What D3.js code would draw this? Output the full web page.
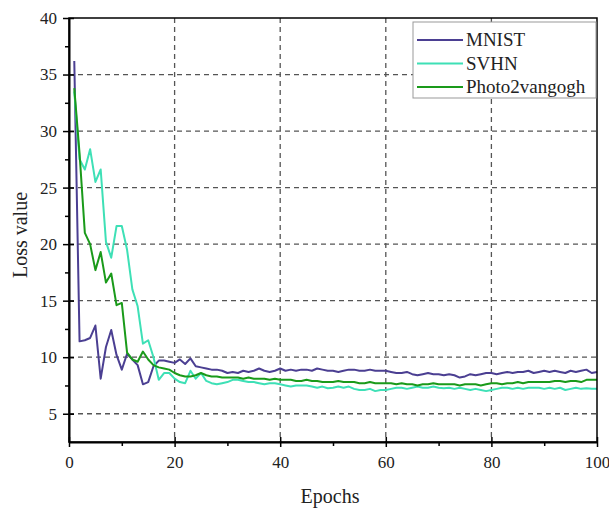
<!DOCTYPE html>
<html>
<head>
<meta charset="utf-8">
<script src="https://cdn.jsdelivr.net/npm/d3@7"></script>
<style>
  body { margin: 0; background: #fff; }
  svg text { font-family: "Liberation Serif", "Times New Roman", serif !important; }
</style>
</head>
<body>
<div id="chart"></div>
<script>
// loss per epoch (1..100)
const mnist = [
  36.2, 11.4, 11.5, 11.7, 12.8, 8.1, 10.9, 12.4, 10.2, 8.9,
  10.3, 9.8, 9.3, 7.6, 7.8, 9.2, 9.7, 9.7, 9.6, 9.5,
  9.8, 9.4, 9.9, 9.2, 9.1, 9.0, 8.9, 8.9, 8.8, 8.6,
  8.7, 8.6, 8.8, 8.7, 8.8, 9.0, 8.8, 8.7, 8.8, 9.0,
  8.8, 8.9, 8.8, 8.9, 8.9, 8.8, 9.0, 8.9, 8.8, 8.8,
  8.7, 8.8, 8.9, 8.9, 8.8, 8.8, 8.9, 8.8, 8.8, 8.8,
  8.7, 8.6, 8.6, 8.7, 8.5, 8.4, 8.5, 8.6, 8.5, 8.5,
  8.4, 8.5, 8.4, 8.2, 8.3, 8.5, 8.4, 8.5, 8.6, 8.6,
  8.5, 8.6, 8.7, 8.6, 8.7, 8.7, 8.8, 8.6, 8.7, 8.8,
  8.7, 8.8, 8.7, 8.6, 8.8, 8.7, 8.8, 8.9, 8.6, 8.7
];
const svhn = [
  33.5, 27.5, 26.6, 28.4, 25.5, 26.6, 20.2, 18.8, 21.6, 21.6,
  19.5, 16.0, 14.5, 11.2, 11.5, 10.0, 8.0, 8.6, 8.6, 8.1,
  7.8, 7.7, 8.8, 8.1, 8.6, 7.9, 7.7, 7.6, 7.7, 7.8,
  8.0, 8.0, 7.9, 7.8, 7.8, 7.7, 7.6, 7.7, 7.7, 7.6,
  7.5, 7.4, 7.5, 7.5, 7.5, 7.4, 7.3, 7.4, 7.25, 7.3,
  7.4, 7.3, 7.4, 7.2, 7.1, 7.1, 7.2, 7.0, 7.1, 7.1,
  7.2, 7.3, 7.3, 7.2, 7.3, 7.4, 7.3, 7.3, 7.4, 7.3,
  7.25, 7.3, 7.2, 7.3, 7.2, 7.1, 7.2, 7.1, 7.0, 7.1,
  7.2, 7.3, 7.3, 7.2, 7.3, 7.2, 7.3, 7.3, 7.3, 7.2,
  7.3, 7.2, 7.3, 7.1, 7.2, 7.3, 7.2, 7.25, 7.2, 7.2
];
const photo2vangogh = [
  33.8, 28.0, 21.0, 20.0, 17.7, 19.3, 16.6, 17.4, 14.6, 14.8,
  10.4, 9.8, 9.6, 10.5, 9.8, 9.3, 9.1, 9.0, 8.9, 8.6,
  8.4, 8.3, 8.3, 8.4, 8.6, 8.4, 8.3, 8.3, 8.2, 8.2,
  8.2, 8.2, 8.1, 8.2, 8.1, 8.1, 8.1, 8.0, 8.1, 8.0,
  8.0, 8.0, 7.9, 7.9, 8.0, 7.9, 7.9, 7.8, 7.8, 7.8,
  7.9, 7.8, 7.8, 7.8, 7.7, 7.7, 7.8, 7.7, 7.7, 7.7,
  7.7, 7.6, 7.7, 7.6, 7.6, 7.5, 7.6, 7.6, 7.7, 7.6,
  7.6, 7.6, 7.6, 7.5, 7.6, 7.6, 7.6, 7.5, 7.6, 7.7,
  7.7, 7.6, 7.7, 7.7, 7.8, 7.7, 7.8, 7.8, 7.8, 7.8,
  7.8, 7.9, 7.9, 7.8, 7.9, 7.9, 7.8, 8.0, 8.0, 8.0
];
const seriesNames = ["MNIST", "SVHN", "Photo2vangogh"];
const xTicks = [0, 20, 40, 60, 80, 100];
const yTicks = [5, 10, 15, 20, 25, 30, 35, 40];

const W = 609, H = 508;
const margin = {top: 18, right: 12, bottom: 66, left: 69};
const w = W - margin.left - margin.right, h = H - margin.top - margin.bottom;

const svg = d3.select("#chart").append("svg")
    .attr("width", W)
    .attr("height", H);
const g = svg.append("g")
    .attr("transform", `translate(${margin.left},${margin.top})`);

const x = d3.scaleLinear().domain([0, 100]).range([0, w]);
const y = d3.scaleLinear().domain([2.5, 40]).range([h, 0]);

const color = d3.scaleOrdinal()
    .domain(seriesNames)
    .range(["#4b3f92", "#3ee0b6", "#1a9a1a"]);

// dashed grid
g.append("g").selectAll("line")
    .data(xTicks.filter(d => d > 0 && d < 100))
    .enter().append("line")
    .attr("x1", d => x(d)).attr("x2", d => x(d))
    .attr("y1", 0).attr("y2", h)
    .attr("stroke", "#555").attr("stroke-width", 1.3)
    .attr("stroke-dasharray", "5,4");
g.append("g").selectAll("line")
    .data(yTicks.filter(d => d < 40))
    .enter().append("line")
    .attr("y1", d => y(d)).attr("y2", d => y(d))
    .attr("x1", 0).attr("x2", w)
    .attr("stroke", "#555").attr("stroke-width", 1.3)
    .attr("stroke-dasharray", "5,4");

// lines
const line = d3.line()
    .x((d, i) => x(i + 1))
    .y(d => y(d));
[mnist, svhn, photo2vangogh].forEach((s, k) => {
    g.append("path")
        .datum(s)
        .attr("fill", "none")
        .attr("stroke", color(seriesNames[k]))
        .attr("stroke-width", 2)
        .attr("stroke-linejoin", "round")
        .attr("d", line);
});

// frame
g.append("rect")
    .attr("width", w).attr("height", h)
    .attr("fill", "none").attr("stroke", "#000").attr("stroke-width", 1.5);

// axes
const xAxis = g.append("g")
    .attr("transform", `translate(0,${h})`)
    .call(d3.axisBottom(x).tickValues(xTicks).tickSize(5).tickSizeOuter(0).tickPadding(9));
xAxis.selectAll(".tick line").attr("y1", -5);
g.append("g")
    .attr("transform", `translate(0,${h})`)
    .call(d3.axisBottom(x).tickValues([10, 30, 50, 70, 90]).tickSize(4).tickSizeOuter(0).tickFormat(""))
    .select(".domain").remove();

const yAxis = g.append("g")
    .call(d3.axisLeft(y).tickValues(yTicks).tickSize(6).tickSizeOuter(0).tickPadding(6));
yAxis.selectAll(".tick line").attr("x1", 5);
g.append("g")
    .call(d3.axisLeft(y).tickValues(d3.range(7.5, 40, 5)).tickSize(4).tickSizeOuter(0).tickFormat(""))
    .select(".domain").remove();

g.selectAll(".domain").attr("stroke-width", 2);
g.selectAll(".tick line").attr("stroke-width", 1.5);
[xAxis, yAxis].forEach(a => a.attr("font-family", "Liberation Serif").attr("font-size", 17));
g.selectAll(".tick text").attr("fill", "#222");

// axis titles
svg.append("text")
    .attr("x", margin.left + w / 2 - 3)
    .attr("y", 503)
    .attr("text-anchor", "middle")
    .style("font-size", "20px")
    .attr("fill", "#222")
    .text("Epochs");
svg.append("text")
    .attr("transform", `translate(27,${margin.top + h / 2 + 5}) rotate(-90)`)
    .attr("text-anchor", "middle")
    .style("font-size", "20px")
    .attr("fill", "#222")
    .text("Loss value");

// legend
const legend = svg.append("g")
    .attr("transform", "translate(413,22)");
legend.append("rect")
    .attr("width", 183).attr("height", 76)
    .attr("fill", "#fff").attr("stroke", "#999").attr("stroke-width", 1);
seriesNames.forEach((name, i) => {
    legend.append("line")
        .attr("x1", 4).attr("x2", 50)
        .attr("y1", 18 + i * 23.5).attr("y2", 18 + i * 23.5)
        .attr("stroke", color(name)).attr("stroke-width", 2);
    legend.append("text")
        .attr("x", 53).attr("y", 24 + i * 23.5)
        .style("font-size", "19px")
        .attr("fill", "#222")
        .text(name);
});
</script>
</body>
</html>
